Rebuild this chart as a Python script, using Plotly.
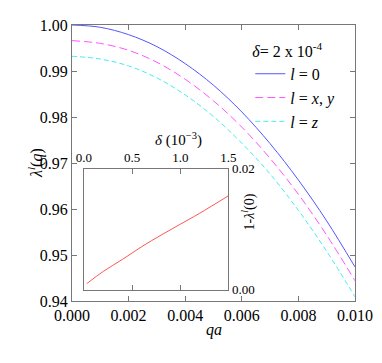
import plotly.graph_objects as go

# main panel data: lambda^l(q) vs qa, delta = 2e-4
qa = [0.000, 0.001, 0.002, 0.003, 0.004, 0.005, 0.006, 0.007, 0.008, 0.009, 0.010]
lam_0 = [1.0000, 0.9995, 0.9979, 0.9953, 0.9916, 0.9869, 0.9811, 0.9742, 0.9663, 0.9574, 0.9474]
lam_xy = [0.9966, 0.9960, 0.9945, 0.9919, 0.9882, 0.9835, 0.9778, 0.9710, 0.9632, 0.9543, 0.9444]
lam_z = [0.9932, 0.9926, 0.9911, 0.9885, 0.9848, 0.9801, 0.9743, 0.9676, 0.9597, 0.9508, 0.9409]

# inset data: 1 - lambda^l(0) vs delta (10^-3)
delta = [0.03, 0.2, 0.4, 0.6, 0.8, 1.0, 1.2, 1.5]
one_minus = [0.0010, 0.0030, 0.0050, 0.0071, 0.0090, 0.0108, 0.0126, 0.0155]

serif = "Liberation Serif"   # works for annotations
tickserif = "serif"          # tick labels only pick up the generic family
axcol = "#777777"

fig = go.Figure()
fig.add_trace(go.Scatter(x=qa, y=lam_0, mode="lines", name="<i>l</i> = 0",
                         line=dict(color="#5555ff", width=1, shape="spline")))
fig.add_trace(go.Scatter(x=qa, y=lam_xy, mode="lines", name="<i>l</i> = <i>x</i>, <i>y</i>",
                         line=dict(color="#ff55ff", width=1, dash="8px,4px", shape="spline")))
fig.add_trace(go.Scatter(x=qa, y=lam_z, mode="lines", name="<i>l</i> = <i>z</i>",
                         line=dict(color="#44eeee", width=1, dash="5px,3px", shape="spline")))
fig.add_trace(go.Scatter(x=delta, y=one_minus, mode="lines", showlegend=False,
                         xaxis="x2", yaxis="y2",
                         line=dict(color="#ff5555", width=1, shape="spline")))

axis_style = dict(showline=True, linecolor=axcol, linewidth=1, ticks="inside",
                  tickcolor=axcol, ticklen=5, showgrid=False, zeroline=False,
                  tickfont=dict(family=tickserif, size=16, color="black"))

# page body has an 8px margin, so the figure is shrunk and shifted by that much
fig.update_layout(
    width=374, height=355,
    margin=dict(l=64, r=26, t=9, b=62),
    paper_bgcolor="white", plot_bgcolor="white",
    font=dict(family=tickserif, size=16, color="black"),
    xaxis=dict(axis_style, range=[0, 0.010], tickvals=[0, 0.002, 0.004, 0.006, 0.008, 0.010],
               tickformat=".3f", mirror="ticks"),
    yaxis=dict(axis_style, range=[0.94, 1.00], dtick=0.01, tickformat=".2f", mirror="ticks"),
    xaxis2=dict(axis_style, domain=[0.0423, 0.5528], anchor="y2", side="top",
                range=[0, 1.5], tickvals=[0, 0.5, 1.0, 1.5], tickformat=".1f", mirror="ticks",
                tickfont=dict(family=tickserif, size=13, color="black")),
    yaxis2=dict(axis_style, domain=[0.0412, 0.480], anchor="x2", side="right",
                range=[0, 0.02], tickvals=[0, 0.02], tickformat=".2f", ticks="",
                mirror=True, tickfont=dict(family=tickserif, size=13, color="black")),
    legend=dict(x=0.63, y=0.96, xanchor="left", yanchor="top", bgcolor="rgba(0,0,0,0)",
                title=dict(text="<i>δ</i>= 2 x 10<sup>-4</sup>", font=dict(family=tickserif, size=16)),
                font=dict(family=tickserif, size=16), tracegroupgap=0),
    annotations=[
        dict(text="<i>qa</i>", x=0.5, y=-0.145, xref="paper", yref="paper",
             showarrow=False, font=dict(family=serif, size=16)),
        dict(text="<i>λ</i><sup><i>l</i></sup>(<i>q</i>)", x=-0.175, y=0.5, xref="paper", yref="paper",
             textangle=-90, showarrow=False, font=dict(family=serif, size=16)),
        dict(text="<i>δ</i> (10<sup>−3</sup>)", x=0.285, y=0.585, xref="paper", yref="paper",
             showarrow=False, font=dict(family=serif, size=15)),
        dict(text="1-<i>λ</i><sup><i>l</i></sup>(0)", x=0.625, y=0.25, xref="paper", yref="paper",
             textangle=-90, showarrow=False, font=dict(family=serif, size=14)),
    ],
)

fig.write_html("out.html")
